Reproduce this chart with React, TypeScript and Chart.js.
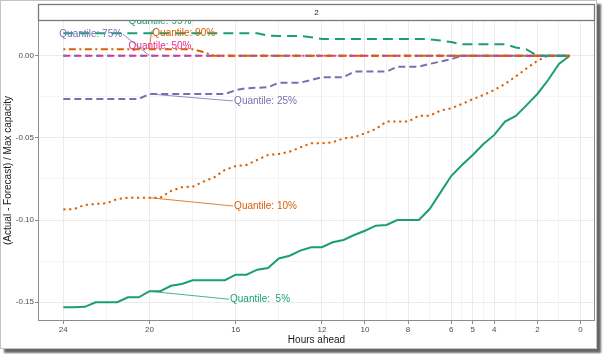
import React, { useEffect, useRef } from 'react';
import { Chart, registerables } from 'chart.js';
Chart.register(...registerables);

// ---------- data ----------
const hours = [24, 23.5, 23, 22.5, 22, 21.5, 21, 20.5, 20, 19.5, 19, 18.5, 18, 17.5, 17, 16.5, 16, 15.5, 15, 14.5, 14, 13.5, 13, 12.5, 12, 11.5, 11, 10.5, 10, 9.5, 9, 8.5, 8, 7.5, 7, 6.5, 6, 5.5, 5, 4.5, 4, 3.5, 3, 2.5, 2, 1.5, 1, 0.5];

const q05 = [-0.153, -0.153, -0.1528, -0.150, -0.150, -0.150, -0.147, -0.147, -0.1433, -0.1433, -0.140, -0.1389, -0.1366, -0.1366, -0.1366, -0.1366, -0.1332, -0.1332, -0.1302, -0.1292, -0.1234, -0.1217, -0.1186, -0.1165, -0.1165, -0.1135, -0.1121, -0.1091, -0.1065, -0.1034, -0.103, -0.100, -0.100, -0.100, -0.0933, -0.0833, -0.0732, -0.0665, -0.0604, -0.0537, -0.0482, -0.0401, -0.0367, -0.0301, -0.0233, -0.0148, -0.005, 0.0];

const q10 = [-0.0935, -0.0933, -0.0908, -0.0902, -0.0898, -0.0872, -0.0864, -0.0864, -0.0864, -0.0864, -0.0823, -0.0800, -0.0797, -0.0766, -0.0740, -0.0695, -0.0671, -0.0665, -0.0634, -0.0604, -0.0598, -0.0584, -0.0558, -0.0533, -0.0533, -0.0527, -0.0503, -0.0496, -0.0472, -0.0446, -0.0401, -0.0401, -0.0401, -0.0365, -0.0365, -0.0334, -0.032, -0.0294, -0.0265, -0.0239, -0.0209, -0.0172, -0.0126, -0.0077, -0.0031, 0, 0, 0];

const q25 = [-0.0263, -0.0263, -0.0263, -0.0263, -0.0263, -0.0263, -0.0263, -0.0263, -0.0233, -0.0233, -0.0233, -0.0233, -0.0233, -0.0233, -0.0233, -0.0233, -0.021, -0.0198, -0.0195, -0.0192, -0.0164, -0.0164, -0.0164, -0.0148, -0.0131, -0.0131, -0.0131, -0.0097, -0.0097, -0.0097, -0.0097, -0.0067, -0.0067, -0.0067, -0.005, -0.0036, -0.0022, 0, 0, 0, 0, 0, 0, 0, 0, 0, 0, 0];

const q50 = [0, 0, 0, 0, 0, 0, 0, 0, 0, 0, 0, 0, 0, 0, 0, 0, 0, 0, 0, 0, 0, 0, 0, 0, 0, 0, 0, 0, 0, 0, 0, 0, 0, 0, 0, 0, 0, 0, 0, 0, 0, 0, 0, 0, 0, 0, 0, 0];

const q75 = [0, 0, 0, 0, 0, 0, 0, 0, 0, 0, 0, 0, 0, 0, 0, 0, 0, 0, 0, 0, 0, 0, 0, 0, 0, 0, 0, 0, 0, 0, 0, 0, 0, 0, 0, 0, 0, 0, 0, 0, 0, 0, 0, 0, 0, 0, 0, 0];

const q90 = [0.0039, 0.0039, 0.0039, 0.0039, 0.0039, 0.0039, 0.0039, 0.0039, 0.0039, 0.0039, 0.0039, 0.0039, 0.0039, 0.0022, 0, 0, 0, 0, 0, 0, 0, 0, 0, 0, 0, 0, 0, 0, 0, 0, 0, 0, 0, 0, 0, 0, 0, 0, 0, 0, 0, 0, 0, 0, 0, 0, 0, 0];

const q95 = [0.0136, 0.0136, 0.0136, 0.0136, 0.0136, 0.0136, 0.0136, 0.0136, 0.0136, 0.0136, 0.0136, 0.0136, 0.0136, 0.0136, 0.0136, 0.0136, 0.0136, 0.0136, 0.0136, 0.0122, 0.012, 0.012, 0.012, 0.0112, 0.0102, 0.0102, 0.0102, 0.0102, 0.0102, 0.0102, 0.0102, 0.0102, 0.0102, 0.0102, 0.01, 0.0092, 0.0083, 0.0069, 0.0069, 0.0069, 0.0069, 0.0069, 0.005, 0.0038, 0, 0, 0, 0];

const seriesLabels = ['Quantile:  5%', 'Quantile: 10%', 'Quantile: 25%', 'Quantile: 50%', 'Quantile: 75%', 'Quantile: 90%', 'Quantile: 95%'];
const seriesValues = [q05, q10, q25, q50, q75, q90, q95];
const labelHour = 20;

const xMajorTicks = [24, 20, 16, 12, 10, 8, 6, 5, 4, 2, 0];
const xMinorTicks = [22, 18, 14, 11, 9, 7, 5.5, 4.5, 3, 1];
const yMajorTicks = [0, -0.05, -0.1, -0.15];
const yTickLabels = ['0.00', '-0.05', '-0.10', '-0.15'];
const yMinorTicks = [-0.025, -0.075, -0.125];
const stripText = '2';
const xTitle = 'Hours ahead';
const yTitle = '(Actual - Forecast) / Max capacity';

// ---------- styles ----------
const FONT = '"Liberation Sans", Arial, sans-serif';
const GREEN = '#1B9E77';
const ORANGE = '#D95F02';
const PURPLE = '#7570B3';
const PINK = '#E7298A';
const seriesStyles = [
  { color: GREEN, dash: [], width: 2 },
  { color: ORANGE, dash: [2.2, 3.6], width: 2 },
  { color: PURPLE, dash: [7, 4], width: 2 },
  { color: PINK, dash: [7, 4], width: 2 },
  { color: PURPLE, dash: [3, 8], width: 2 },
  { color: ORANGE, dash: [2, 3.5, 7, 3.5], width: 2 },
  { color: GREEN, dash: [10, 6], width: 2 },
];
// label offsets (pixels) from the anchor point, and side of the leader line
const labelStyles = [
  { dx: 110.5, dy: 8, side: 'left', ax: 0 },
  { dx: 116, dy: 8.3, side: 'left', ax: 0 },
  { dx: 116, dy: 7, side: 'left', ax: 0 },
  { dx: 10.5, dy: -9, side: 'none', ax: 0 },
  { dx: -58.8, dy: -21.4, side: 'right', ax: 0 },
  { dx: 34.2, dy: -16, side: 'left', ax: 0 },
  { dx: 10.5, dy: -12.3, side: 'bottom', ax: -3 },
];

const near = (a: number, b: number) => Math.abs(a - b) < 1e-9;
const isXMajor = (v: number) => xMajorTicks.some((t) => near(t, v));
const isYMajor = (v: number) => yMajorTicks.some((t) => near(t, v));

const labelPlugin = {
  id: 'repelLabels',
  afterDatasetsDraw(chart: any) {
    const { ctx, chartArea, scales } = chart;
    const xs = scales.x, ys = scales.y;
    ctx.save();
    ctx.beginPath();
    ctx.rect(chartArea.left, chartArea.top, chartArea.right - chartArea.left, chartArea.bottom - chartArea.top);
    ctx.clip();
    ctx.font = '10px ' + FONT;
    ctx.textAlign = 'center';
    ctx.textBaseline = 'middle';
    const idx = hours.indexOf(labelHour);
    seriesLabels.forEach((text, i) => {
      const st = labelStyles[i];
      const color = seriesStyles[i].color;
      const px = xs.getPixelForValue(labelHour);
      const py = ys.getPixelForValue(seriesValues[i][idx]);
      const cx = px + st.dx, cy = py + st.dy;
      const w = ctx.measureText(text).width;
      const h = 10;
      let ex = 0, ey = 0;
      if (st.side !== 'none') {
        if (st.side === 'left') { ex = cx - w / 2 - 1; ey = cy; }
        else if (st.side === 'right') { ex = cx + w / 2 + 1; ey = cy; }
        else { ex = cx + st.ax; ey = cy + h / 2 + 1.5; }
        ctx.strokeStyle = color;
        ctx.lineWidth = 0.8;
        ctx.setLineDash([]);
        ctx.beginPath();
        ctx.moveTo(px, py);
        ctx.lineTo(ex, ey);
        ctx.stroke();
      }
      ctx.fillStyle = color;
      ctx.fillText(text, cx, cy);
    });
    ctx.restore();
  },
};

const framePlugin = {
  id: 'panelFrame',
  afterDraw(chart: any) {
    const { ctx, chartArea } = chart;
    const { left, top, right, bottom } = chartArea;
    ctx.save();
    ctx.setLineDash([]);
    ctx.strokeStyle = '#8c8c8c';
    ctx.lineWidth = 1;
    ctx.strokeRect(Math.round(left) + 0.5, Math.round(top) + 0.5, Math.round(right - left) - 1, Math.round(bottom - top) - 1);
    // strip
    const sTop = 4.5;
    ctx.fillStyle = '#ffffff';
    ctx.fillRect(Math.round(left) + 0.5, sTop, Math.round(right - left) - 1, top - sTop);
    ctx.strokeStyle = '#7a7a7a';
    ctx.lineWidth = 1.3;
    ctx.strokeRect(Math.round(left) + 0.5, sTop, Math.round(right - left) - 1, Math.round(top) + 0.5 - sTop);
    ctx.fillStyle = '#1a1a1a';
    ctx.font = '8px ' + FONT;
    ctx.textAlign = 'center';
    ctx.textBaseline = 'middle';
    ctx.fillText(stripText, (left + right) / 2, (sTop + top) / 2 + 0.5);
    ctx.restore();
  },
};

export default function App() {
  const ref = useRef<HTMLCanvasElement | null>(null);
  useEffect(() => {
    if (!ref.current) return;
    const datasets = seriesValues.map((vals, i) => ({
      label: seriesLabels[i],
      data: hours.map((h, j) => ({ x: h, y: vals[j] })),
      borderColor: seriesStyles[i].color,
      backgroundColor: seriesStyles[i].color,
      borderWidth: seriesStyles[i].width,
      borderDash: seriesStyles[i].dash,
      borderCapStyle: 'butt' as const,
      pointRadius: 0,
      tension: 0,
      fill: false,
      order: seriesValues.length - i,
    }));
    const chart = new Chart(ref.current, {
      type: 'line',
      data: { datasets },
      options: {
        animation: false,
        responsive: false,
        devicePixelRatio: 1,
        layout: { padding: { left: 0, right: 9, top: 20, bottom: 0 } },
        plugins: { legend: { display: false }, tooltip: { enabled: false } },
        scales: {
          x: {
            type: 'linear',
            reverse: true,
            min: -0.675,
            max: 25.175,
            afterBuildTicks: (scale: any) => {
              scale.ticks = [...xMajorTicks, ...xMinorTicks].map((v) => ({ value: v }));
            },
            afterFit: (scale: any) => { scale.height = 33; },
            ticks: {
              autoSkip: false,
              maxRotation: 0,
              padding: 1,
              color: '#4d4d4d',
              font: { family: FONT, size: 8 },
              callback: (v: any) => (isXMajor(Number(v)) ? String(v) : ''),
            },
            grid: {
              color: (c: any) => (c.tick && isXMajor(c.tick.value) ? '#ebebeb' : '#f4f4f4'),
              tickColor: (c: any) => (c.tick && isXMajor(c.tick.value) ? '#8c8c8c' : 'rgba(0,0,0,0)'),
              tickLength: 3,
              lineWidth: 1,
            },
            border: { display: false },
            title: {
              display: true,
              text: xTitle,
              color: '#1a1a1a',
              font: { family: FONT, size: 10 },
              padding: { top: 0, bottom: 8 },
            },
          },
          y: {
            type: 'linear',
            min: -0.1614,
            max: 0.0217,
            afterBuildTicks: (scale: any) => {
              scale.ticks = [...yMajorTicks, ...yMinorTicks].map((v) => ({ value: v }));
            },
            afterFit: (scale: any) => { scale.width = 38; },
            ticks: {
              autoSkip: false,
              padding: 1,
              color: '#4d4d4d',
              font: { family: FONT, size: 8 },
              callback: (v: any) => {
                const k = yMajorTicks.findIndex((t) => near(t, Number(v)));
                return k >= 0 ? yTickLabels[k] : '';
              },
            },
            grid: {
              color: (c: any) => (c.tick && isYMajor(c.tick.value) ? '#ebebeb' : '#f4f4f4'),
              tickColor: (c: any) => (c.tick && isYMajor(c.tick.value) ? '#8c8c8c' : 'rgba(0,0,0,0)'),
              tickLength: 3,
              lineWidth: 1,
            },
            border: { display: false },
            title: {
              display: true,
              text: yTitle,
              color: '#1a1a1a',
              font: { family: FONT, size: 10 },
              padding: { top: 2, bottom: 0 },
            },
          },
        },
      },
      plugins: [labelPlugin, framePlugin],
    });
    return () => chart.destroy();
  }, []);

  return (
    <div style={{ position: 'fixed', left: 0, top: 0, width: 604, height: 354, background: '#ffffff' }}>
      <div
        style={{
          position: 'absolute',
          left: 0,
          top: 0,
          width: 595,
          height: 347,
          border: '1px solid #c4c4c4',
          background: '#ffffff',
          boxShadow: '4px 4px 2px rgba(0,0,0,0.6)',
        }}
      />
      <canvas ref={ref} width={604} height={354} style={{ position: 'absolute', left: 0, top: 0, display: 'block' }} />
    </div>
  );
}
